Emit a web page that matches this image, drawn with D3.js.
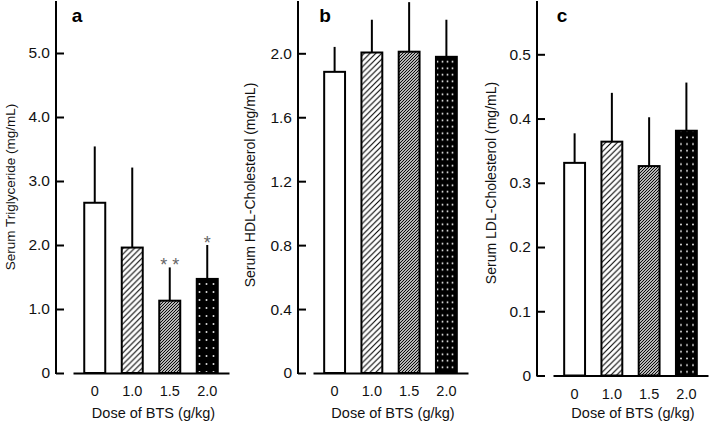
<!DOCTYPE html>
<html>
<head>
<meta charset="utf-8">
<script src="https://cdn.jsdelivr.net/npm/d3@7"></script>
<style>
  body { margin: 0; background: #fff; }
  svg { display: block; font-family: "Liberation Sans", Arial, sans-serif; }
</style>
</head>
<body>
<svg id="chart" width="710" height="424"></svg>
<script>
// data
var doses = ["0", "1.0", "1.5", "2.0"];
var tgMean = [2.66, 1.96, 1.13, 1.47];
var tgErr = [0.88, 1.25, 0.52, 0.53];
var tgMarks = ["", "", "* *", "*"];
var hdlMean = [1.884, 2.005, 2.01, 1.978];
var hdlErr = [0.156, 0.205, 0.31, 0.232];
var ldlMean = [0.331, 0.364, 0.326, 0.381];
var ldlErr = [0.046, 0.076, 0.076, 0.075];
var tgTicks = [0, 1, 2, 3, 4, 5];
var hdlTicks = [0, 0.4, 0.8, 1.2, 1.6, 2.0];
var ldlTicks = [0, 0.1, 0.2, 0.3, 0.4, 0.5];

var svg = d3.select("#chart");
var defs = svg.append("defs");

// fill patterns
function hatch(id, s) {
  var p = defs.append("pattern").attr("id", id)
    .attr("patternUnits", "userSpaceOnUse")
    .attr("width", s).attr("height", s);
  p.append("rect").attr("width", s).attr("height", s).attr("fill", "#fff");
  p.append("path")
    .attr("d", "M0," + s + " L" + s + ",0 M-1,1 L1,-1 M" + (s - 1) + "," + (s + 1) + " L" + (s + 1) + "," + (s - 1))
    .attr("stroke", "#000").attr("stroke-width", 1.1);
}
function dots(id, w, h) {
  var p = defs.append("pattern").attr("id", id)
    .attr("patternUnits", "userSpaceOnUse")
    .attr("width", w).attr("height", h);
  p.append("rect").attr("width", w).attr("height", h).attr("fill", "#000");
  p.append("rect").attr("x", w / 2 - 0.8).attr("y", h / 2 - 0.8)
    .attr("width", 1.6).attr("height", 1.6).attr("fill", "#fff");
}
hatch("h1", 5.8);
hatch("h2", 3);
dots("da", 7, 8);
dots("db", 5, 6.5);
dots("dc", 6, 6.7);

var fmt = function(d) { return d === 0 ? "0" : d.toFixed(1); };

var panels = [
  {letter: "a", mean: tgMean, err: tgErr, marks: tgMarks, ticks: tgTicks,
   label: "Serum Triglyceride  (mg/mL)", labelSize: 13.5, axisX: 56, y0: 373, yTop: 53, xr: [73, 229], labelX: 10, labelY: 187, letterX: 77, dotId: "da"},
  {letter: "b", mean: hdlMean, err: hdlErr, marks: null, ticks: hdlTicks,
   label: "Serum HDL-Cholesterol  (mg/mL)", labelSize: 14, axisX: 298, y0: 373, yTop: 53.3, xr: [313, 468], labelX: 250, labelY: 185, letterX: 325, dotId: "db"},
  {letter: "c", mean: ldlMean, err: ldlErr, marks: null, ticks: ldlTicks,
   label: "Serum LDL-Cholesterol  (mg/mL)", labelSize: 14, axisX: 537, y0: 375.5, yTop: 54.3, xr: [553, 708], labelX: 491, labelY: 183, letterX: 562, dotId: "dc"}
];

panels.forEach(function(p) {
  var g = svg.append("g");
  var top = p.ticks[p.ticks.length - 1];
  var y = d3.scaleLinear().domain([0, top]).range([p.y0, p.yTop]);
  var x = d3.scaleBand().domain(d3.range(doses.length)).range(p.xr)
    .paddingInner(0.44).paddingOuter(0.3);
  var fills = ["#fff", "url(#h1)", "url(#h2)", "url(#" + p.dotId + ")"];

  // y axis, ticks pointing inward
  var yAxis = d3.axisLeft(y).tickValues(p.ticks).tickFormat(fmt)
    .tickSizeInner(-8).tickSizeOuter(0).tickPadding(6);
  var ya = g.append("g").attr("transform", "translate(" + p.axisX + ",0)").call(yAxis);
  ya.select(".domain").remove();
  ya.append("line").attr("x1", 0).attr("x2", 0).attr("y1", 1).attr("y2", p.y0 + 1)
    .attr("stroke", "#000").attr("stroke-width", 2);
  ya.selectAll(".tick line").attr("stroke-width", 2);
  ya.selectAll(".tick text").attr("font-size", 15.5).attr("fill", "#111")
    .attr("font-family", "Liberation Sans, Arial, sans-serif");

  // x axis
  var xAxis = d3.axisBottom(x).tickFormat(function(i) { return doses[i]; })
    .tickSizeInner(0).tickSizeOuter(0).tickPadding(13);
  var xa = g.append("g").attr("transform", "translate(0," + p.y0 + ")").call(xAxis);
  xa.select(".domain").attr("stroke-width", 2);
  xa.selectAll(".tick text").attr("font-size", 14.5).attr("fill", "#111")
    .attr("font-family", "Liberation Sans, Arial, sans-serif");

  // error bars (upper only)
  g.selectAll(".err").data(p.mean).enter().append("line")
    .attr("x1", function(d, i) { return x(i) + x.bandwidth() / 2; })
    .attr("x2", function(d, i) { return x(i) + x.bandwidth() / 2; })
    .attr("y1", function(d) { return y(d); })
    .attr("y2", function(d, i) { return y(d + p.err[i]); })
    .attr("stroke", "#000").attr("stroke-width", 2);

  // bars
  g.selectAll(".bar").data(p.mean).enter().append("rect")
    .attr("x", function(d, i) { return x(i); })
    .attr("width", x.bandwidth())
    .attr("y", function(d) { return y(d); })
    .attr("height", function(d) { return p.y0 - y(d); })
    .attr("fill", function(d, i) { return fills[i]; })
    .attr("stroke", "#000").attr("stroke-width", 2);

  if (p.marks) {
    g.selectAll(".mark").data(p.marks).enter().append("text")
      .attr("x", function(d, i) { return x(i) + x.bandwidth() / 2; })
      .attr("y", function(d, i) { return y(p.mean[i] + p.err[i]) + 4; })
      .attr("text-anchor", "middle")
      .attr("font-size", 18).attr("fill", "#666")
      .text(function(d) { return d; });
  }

  g.append("text")
    .attr("transform", "translate(" + p.labelX + "," + p.labelY + ") rotate(-90)")
    .attr("text-anchor", "middle").attr("dominant-baseline", "central")
    .attr("font-size", p.labelSize).attr("fill", "#111")
    .text(p.label);

  g.append("text")
    .attr("x", (p.xr[0] + p.xr[1]) / 2 + 2.5).attr("y", 418)
    .attr("text-anchor", "middle").attr("font-size", 14.5).attr("fill", "#111")
    .text("Dose of BTS (g/kg)");

  g.append("text")
    .attr("x", p.letterX).attr("y", 22)
    .attr("text-anchor", "middle").attr("font-size", 19).attr("font-weight", "bold")
    .text(p.letter);
});
</script>
</body>
</html>
